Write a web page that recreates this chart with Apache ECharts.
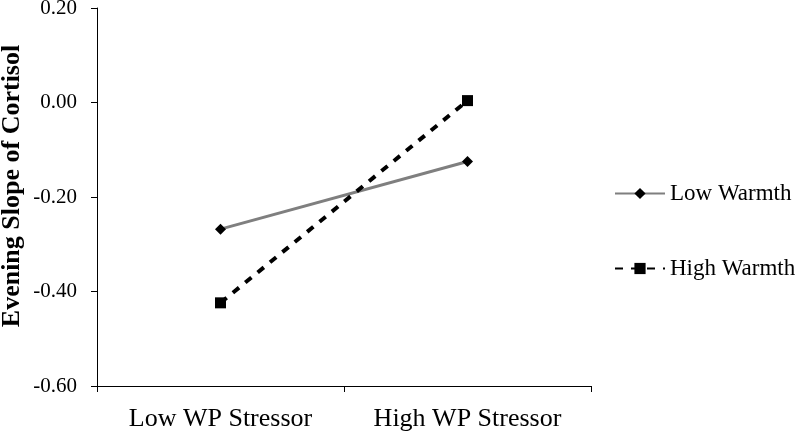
<!DOCTYPE html>
<html><head><meta charset="utf-8">
<script src="https://cdn.jsdelivr.net/npm/echarts@6/dist/echarts.min.js"></script>
<style>html,body{margin:0;padding:0;background:#fff}#c{width:800px;height:433px}</style>
</head><body><div id="c"></div>
<script>
const categories = ['Low WP Stressor', 'High WP Stressor'];
const lowWarmth = [-0.268, -0.125];
const highWarmth = [-0.424, 0.004];
const yTicks = { min: -0.6, max: 0.2, interval: 0.2 };
const font = '"Liberation Serif", "Times New Roman", serif';

const chart = echarts.init(document.getElementById('c'), null, { renderer: 'canvas' });
chart.setOption({
  animation: false,
  backgroundColor: '#fff',
  grid: { left: 97, top: 8, right: 209, bottom: 47, containLabel: false, outerBoundsMode: 'none' },
  legend: {
    orient: 'vertical', left: 609, top: 177, itemWidth: 50, itemHeight: 14, itemGap: 52,
    textStyle: { fontFamily: font, fontSize: 23, color: '#000' },
    data: ['Low Warmth', 'High Warmth']
  },
  xAxis: {
    type: 'category', data: categories, boundaryGap: true,
    axisLine: { onZero: false, lineStyle: { color: '#000', width: 1 } },
    axisTick: { show: true, length: 6, lineStyle: { color: '#000' } },
    axisLabel: { fontFamily: font, fontSize: 26, color: '#000', margin: 20 }
  },
  yAxis: {
    type: 'value', min: yTicks.min, max: yTicks.max, interval: yTicks.interval,
    name: 'Evening Slope of Cortisol', nameLocation: 'middle', nameGap: 72, nameMoveOverlap: false,
    nameTextStyle: { fontFamily: font, fontSize: 26, fontWeight: 'bold', color: '#000', padding: [0, 0, 0, 22] },
    axisLine: { show: true, lineStyle: { color: '#000', width: 1 } },
    axisTick: { show: true, length: 6, lineStyle: { color: '#000' } },
    splitLine: { show: false },
    axisLabel: { fontFamily: font, fontSize: 21, color: '#000', margin: 20,
      formatter: v => v.toFixed(2) }
  },
  series: [
    { name: 'Low Warmth', type: 'line', data: lowWarmth, symbol: 'diamond', symbolSize: 11,
      itemStyle: { color: '#000' }, lineStyle: { color: '#7f7f7f', width: 3 } },
    { name: 'High Warmth', type: 'line', data: highWarmth, symbol: 'rect', symbolSize: 11,
      itemStyle: { color: '#000' }, lineStyle: { color: '#000', width: 4, type: [8, 8] } }
  ]
});
</script></body></html>
